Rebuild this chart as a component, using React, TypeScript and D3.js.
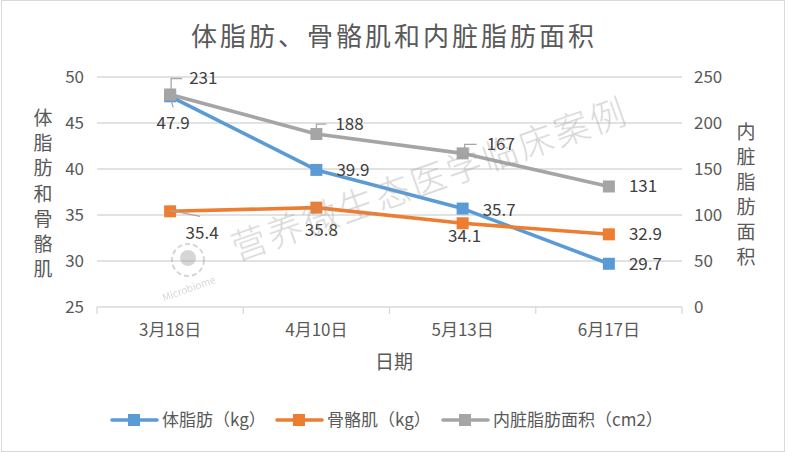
import React from 'react';
import * as d3 from 'd3';

// chart data
const dates = ['3月18日', '4月10日', '5月13日', '6月17日'];
const bodyFat = [47.9, 39.9, 35.7, 29.7];
const muscle = [35.4, 35.8, 34.1, 32.9];
const visceral = [231, 188, 167, 131];
const leftTicks = [25, 30, 35, 40, 45, 50];
const rightTicks = [0, 50, 100, 150, 200, 250];
const legendNames = ['体脂肪（kg）', '骨骼肌（kg）', '内脏脂肪面积（cm2）'];

// label placement (dx, dy from the point, text-anchor)
const bodyLabelPos: [number, number, string][] = [[3, 27, 'middle'], [20, 0, 'start'], [20, 1, 'start'], [20, 0, 'start']];
const muscleLabelPos: [number, number, string][] = [[32, 22, 'middle'], [5, 22, 'middle'], [2, 13, 'middle'], [20, 0, 'start']];
const visceralLabelPos: [number, number, string][] = [[19, -16, 'start'], [19, -10, 'start'], [24, -9, 'start'], [20, 0, 'start']];

// leader lines, relative to the point
const bodyLeaders: ([number, number][] | null)[] = [[[1, 4], [3, 11]], null, null, null];
const muscleLeaders: ([number, number][] | null)[] = [[[0, -1], [30, 5]], null, null, null];
const visceralLeaders: ([number, number][] | null)[] = [
  [[1, -5], [1, -16], [12, -16]],
  [[0, -1], [0, -10], [10, -10]],
  [[2, 5], [2, -9], [14, -9]],
  null,
];

const W = 788;
const H = 452;
const FONT = '"Noto Sans CJK SC", "Noto Sans", sans-serif';
const colors = ['#5b9bd5', '#ed7d31', '#a5a5a5'];

const App: React.FC = () => {
  const plot = { left: 97, right: 682, top: 77, bottom: 307 };

  const x = d3.scaleBand<string>().domain(dates).range([plot.left, plot.right]);
  const cx = (d: string) => (x(d) ?? 0) + x.bandwidth() / 2;
  const yL = d3.scaleLinear().domain([25, 50]).range([plot.bottom, plot.top]);
  const yR = d3.scaleLinear().domain([0, 250]).range([plot.bottom, plot.top]);

  const line = d3.line<[number, number]>().x(d => d[0]).y(d => d[1]);

  const series = [
    { values: bodyFat, y: yL, pos: bodyLabelPos, leaders: bodyLeaders, color: colors[0] },
    { values: muscle, y: yL, pos: muscleLabelPos, leaders: muscleLeaders, color: colors[1] },
    { values: visceral, y: yR, pos: visceralLabelPos, leaders: visceralLeaders, color: colors[2] },
  ];

  const leftTitle = '体脂肪和骨骼肌'.split('');
  const rightTitle = '内脏脂肪面积'.split('');
  const legendX = [112, 277, 443];

  return (
    <svg
      width={W}
      height={H}
      style={{ position: 'absolute', left: 0, top: 0, background: '#fff' }}
      fontFamily={FONT}
    >
      <rect x={1.5} y={0.5} width={W - 5} height={H - 1} fill="#fff" stroke="#d9d9d9" />

      <text x={394} y={46} textAnchor="middle" fontSize={26} letterSpacing={3} fill="#595959">
        体脂肪、骨骼肌和内脏脂肪面积
      </text>

      {/* gridlines */}
      {leftTicks.map(t => (
        <line key={t} x1={plot.left} x2={plot.right} y1={yL(t)} y2={yL(t)} stroke="#d9d9d9" strokeWidth={1.3} />
      ))}
      {/* x ticks */}
      {d3.range(dates.length + 1).map(i => {
        const xx = plot.left + i * x.step();
        return <line key={i} x1={xx} x2={xx} y1={plot.bottom} y2={plot.bottom + 7} stroke="#d9d9d9" strokeWidth={1.3} />;
      })}

      {/* axis tick labels */}
      {leftTicks.map(t => (
        <text key={t} x={84} y={yL(t)} dy="0.35em" textAnchor="end" fontSize={17} fill="#595959">{t}</text>
      ))}
      {rightTicks.map(t => (
        <text key={t} x={694} y={yR(t)} dy="0.35em" textAnchor="start" fontSize={17} fill="#595959">{t}</text>
      ))}
      {dates.map(d => (
        <text key={d} x={cx(d)} y={330} dy="0.35em" textAnchor="middle" fontSize={17} fill="#595959">{d}</text>
      ))}

      {/* axis titles */}
      <text x={394} y={362} dy="0.35em" textAnchor="middle" fontSize={19} fill="#595959">日期</text>
      {leftTitle.map((c, i) => (
        <text key={i} x={43} y={118 + i * 25.3} dy="0.35em" textAnchor="middle" fontSize={19} fill="#595959">{c}</text>
      ))}
      {rightTitle.map((c, i) => (
        <text key={i} x={746} y={132 + i * 25} dy="0.35em" textAnchor="middle" fontSize={19} fill="#595959">{c}</text>
      ))}

      {/* series */}
      {series.map((s, si) => {
        const pts = s.values.map((v, i) => [cx(dates[i]), s.y(v)] as [number, number]);
        return (
          <g key={si}>
            <path d={line(pts) ?? ''} fill="none" stroke={s.color} strokeWidth={3.6} strokeLinejoin="round" strokeLinecap="round" />
            {pts.map((p, i) => (
              <rect key={i} x={p[0] - 6} y={p[1] - 6} width={12} height={12} fill={s.color} />
            ))}
          </g>
        );
      })}

      {/* leader lines + data labels */}
      {series.map((s, si) =>
        s.values.map((v, i) => {
          const px = cx(dates[i]);
          const py = s.y(v);
          const [dx, dy, anchor] = s.pos[i];
          const ld = s.leaders[i];
          return (
            <g key={`${si}-${i}`}>
              {ld && (
                <path
                  d={line(ld.map(q => [px + q[0], py + q[1]] as [number, number])) ?? ''}
                  fill="none"
                  stroke="#a6a6a6"
                  strokeWidth={1.3}
                />
              )}
              <text x={px + dx} y={py + dy} dy="0.35em" textAnchor={anchor} fontSize={17} fill="#404040">
                {v}
              </text>
            </g>
          );
        })
      )}

      {/* watermark */}
      <g opacity={0.4} fill="#9a9a9a">
        <text
          x={430}
          y={180}
          dy="0.35em"
          textAnchor="middle"
          fontSize={35}
          fontWeight={300}
          letterSpacing={3}
          transform="rotate(-19.5 430 180)"
        >
          营养微生态医学临床案例
        </text>
        <circle cx={188} cy={260} r={16} fill="none" stroke="#9a9a9a" strokeWidth={2} strokeDasharray="5 3" />
        <circle cx={188} cy={258} r={8} />
        <text x={190} y={292} fontSize={10} textAnchor="middle" transform="rotate(-20 190 292)">Microbiome</text>
      </g>

      {/* legend */}
      {legendNames.map((n, i) => (
        <g key={n}>
          <line x1={legendX[i]} x2={legendX[i] + 45} y1={420} y2={420} stroke={colors[i]} strokeWidth={3.6} strokeLinecap="round" />
          <rect x={legendX[i] + 16} y={414} width={12} height={12} fill={colors[i]} />
          <text x={legendX[i] + 50} y={420} dy="0.35em" fontSize={17} fill="#595959">{n}</text>
        </g>
      ))}
    </svg>
  );
};

export default App;
